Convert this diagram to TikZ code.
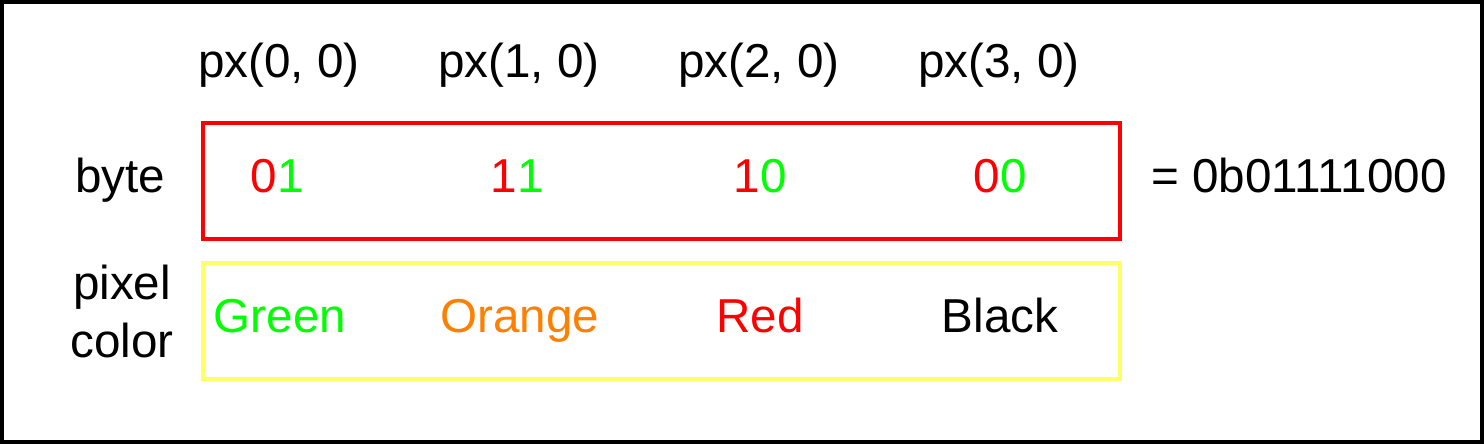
\documentclass[tikz,border=0pt]{standalone}
\usepackage{fontspec}
\setmainfont{Liberation Sans}
\definecolor{bitred}{HTML}{FF0000}
\definecolor{bitgreen}{HTML}{00FF00}
\definecolor{pxorange}{HTML}{FF8000}
\definecolor{boxyellow}{HTML}{FFFF66}
\begin{document}
\begin{tikzpicture}[x=0.5pt,y=-0.5pt,every node/.style={font=\fontsize{23.8}{28.5}\selectfont,inner sep=0pt}]
    \useasboundingbox (0,0) rectangle (1484,444);
    \draw[line width=2pt] (2,2) rectangle (1482,442);
    % boxes
    \node[draw=bitred,line width=2pt,minimum width=458.5pt,minimum height=58pt] (bytebox) at (661.5,181) {};
    \node[draw=boxyellow,line width=2pt,minimum width=458.5pt,minimum height=58pt] (colorbox) at (661.5,321) {};
    % row labels
    \node[anchor=base] (byte) at (120,192) {byte};
    \node[anchor=base,align=center] (pixcol) at (122,357) {pixel\\color};
    \node[anchor=base] (value) at (1299,192) {= 0b01111000};
    % pixel columns
    \node[anchor=base] (px0) at (279,78) {px(0, 0)};
    \node[anchor=base] (px1) at (519,78) {px(1, 0)};
    \node[anchor=base] (px2) at (759,78) {px(2, 0)};
    \node[anchor=base] (px3) at (999,78) {px(3, 0)};
    \node[anchor=base] (bits0) at (277,192) {\color{bitred}0\color{bitgreen}1};
    \node[anchor=base] (bits1) at (517,192) {\color{bitred}1\color{bitgreen}1};
    \node[anchor=base] (bits2) at (760,192) {\color{bitred}1\color{bitgreen}0};
    \node[anchor=base] (bits3) at (1000,192) {\color{bitred}0\color{bitgreen}0};
    \node[anchor=base,text=bitgreen] (green) at (280,332) {Green};
    \node[anchor=base,text=pxorange] (orange) at (520,332) {Orange};
    \node[anchor=base,text=bitred] (red) at (760,332) {Red};
    \node[anchor=base] (black) at (1000,332) {Black};
\end{tikzpicture}
\end{document}
